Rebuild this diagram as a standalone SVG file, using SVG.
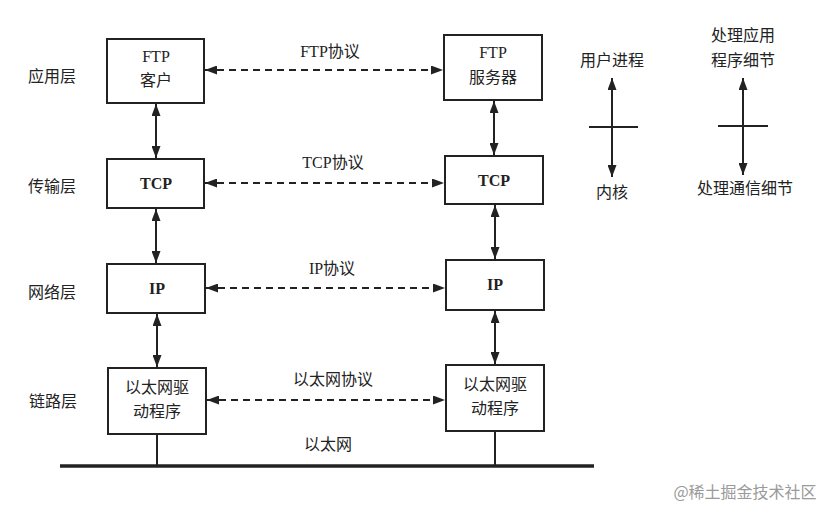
<svg xmlns="http://www.w3.org/2000/svg" width="828" height="507" viewBox="0 0 828 507">
<style>
text{font-family:"Liberation Serif","Noto Sans CJK SC",serif;font-size:16px;fill:#222;text-anchor:middle}
.b{font-weight:bold}
.box{fill:#fff;stroke:#222;stroke-width:2}
.ln{stroke:#222;stroke-width:2;fill:none}
.dash{stroke:#222;stroke-width:2;fill:none;stroke-dasharray:7 5}
.wm{fill:#9a9a9a;font-family:"Noto Sans CJK SC",sans-serif;font-size:16px}
</style>
<defs>
<marker id="ah" viewBox="0 0 12 9" refX="12" refY="4.5" markerWidth="12" markerHeight="9" markerUnits="userSpaceOnUse" orient="auto-start-reverse">
<path d="M0,0 L12,4.5 L0,9 Z" fill="#222"/>
</marker>
</defs>
<rect width="828" height="507" fill="#fff"/>
<g id="layers">
<text x="52" y="82">应用层</text>
<text x="52" y="192">传输层</text>
<text x="52" y="298">网络层</text>
<text x="53" y="407">链路层</text>
</g>
<g id="ftp-client"><rect class="box" x="107" y="39" width="97" height="64"/><text x="156" y="62">FTP</text><text x="156" y="86">客户</text></g>
<g id="tcp-left"><rect class="box" x="107" y="159" width="97" height="49"/><text class="b" x="156" y="189">TCP</text></g>
<g id="ip-left"><rect class="box" x="107" y="264" width="98" height="49"/><text class="b" x="157" y="294">IP</text></g>
<g id="eth-left"><rect class="box" x="108" y="368" width="98" height="66"/><text x="157" y="393">以太网驱</text><text x="157" y="417">动程序</text></g>
<g id="ftp-server"><rect class="box" x="444" y="35" width="98" height="65"/><text x="493" y="58">FTP</text><text x="493" y="83">服务器</text></g>
<g id="tcp-right"><rect class="box" x="445" y="156" width="98" height="48"/><text class="b" x="494" y="186">TCP</text></g>
<g id="ip-right"><rect class="box" x="446" y="260" width="98" height="50"/><text class="b" x="495" y="290">IP</text></g>
<g id="eth-right"><rect class="box" x="446" y="365" width="98" height="66"/><text x="495" y="390">以太网驱</text><text x="495" y="414">动程序</text></g>
<g id="connectors">
<line class="dash" x1="205" y1="70" x2="443" y2="70" marker-start="url(#ah)" marker-end="url(#ah)"/>
<line class="dash" x1="205" y1="183" x2="444" y2="183" marker-start="url(#ah)" marker-end="url(#ah)"/>
<line class="dash" x1="206" y1="288" x2="445" y2="288" marker-start="url(#ah)" marker-end="url(#ah)"/>
<line class="dash" x1="207" y1="400" x2="445" y2="400" marker-start="url(#ah)" marker-end="url(#ah)"/>
<line class="ln" x1="156" y1="104" x2="156" y2="158" marker-start="url(#ah)" marker-end="url(#ah)"/>
<line class="ln" x1="156" y1="209" x2="156" y2="263" marker-start="url(#ah)" marker-end="url(#ah)"/>
<line class="ln" x1="157" y1="314" x2="157" y2="367" marker-start="url(#ah)" marker-end="url(#ah)"/>
<line class="ln" x1="494" y1="101" x2="494" y2="155" marker-start="url(#ah)" marker-end="url(#ah)"/>
<line class="ln" x1="495" y1="205" x2="495" y2="259" marker-start="url(#ah)" marker-end="url(#ah)"/>
<line class="ln" x1="495" y1="311" x2="495" y2="364" marker-start="url(#ah)" marker-end="url(#ah)"/>
<line class="ln" x1="157" y1="435" x2="157" y2="466"/>
<line class="ln" x1="495" y1="432" x2="495" y2="466"/>
<line stroke="#222" stroke-width="3.5" x1="60" y1="466" x2="594" y2="466"/>
</g>
<g id="labels">
<text x="330" y="57">FTP协议</text>
<text x="333" y="168">TCP协议</text>
<text x="332" y="274">IP协议</text>
<text x="333" y="385">以太网协议</text>
<text x="328" y="450">以太网</text>
</g>
<g id="legend-user">
<text x="612" y="66">用户进程</text>
<line class="ln" x1="612" y1="78" x2="612" y2="177" marker-start="url(#ah)" marker-end="url(#ah)"/>
<line class="ln" x1="589" y1="127" x2="638" y2="127"/>
<text x="612" y="198">内核</text>
</g>
<g id="legend-detail">
<text x="743" y="41">处理应用</text>
<text x="743" y="66">程序细节</text>
<line class="ln" x1="743" y1="78" x2="743" y2="175" marker-start="url(#ah)" marker-end="url(#ah)"/>
<line class="ln" x1="718" y1="126" x2="768" y2="126"/>
<text x="745" y="194">处理通信细节</text>
</g>
<text class="wm" x="745" y="498">@稀土掘金技术社区</text>
</svg>
